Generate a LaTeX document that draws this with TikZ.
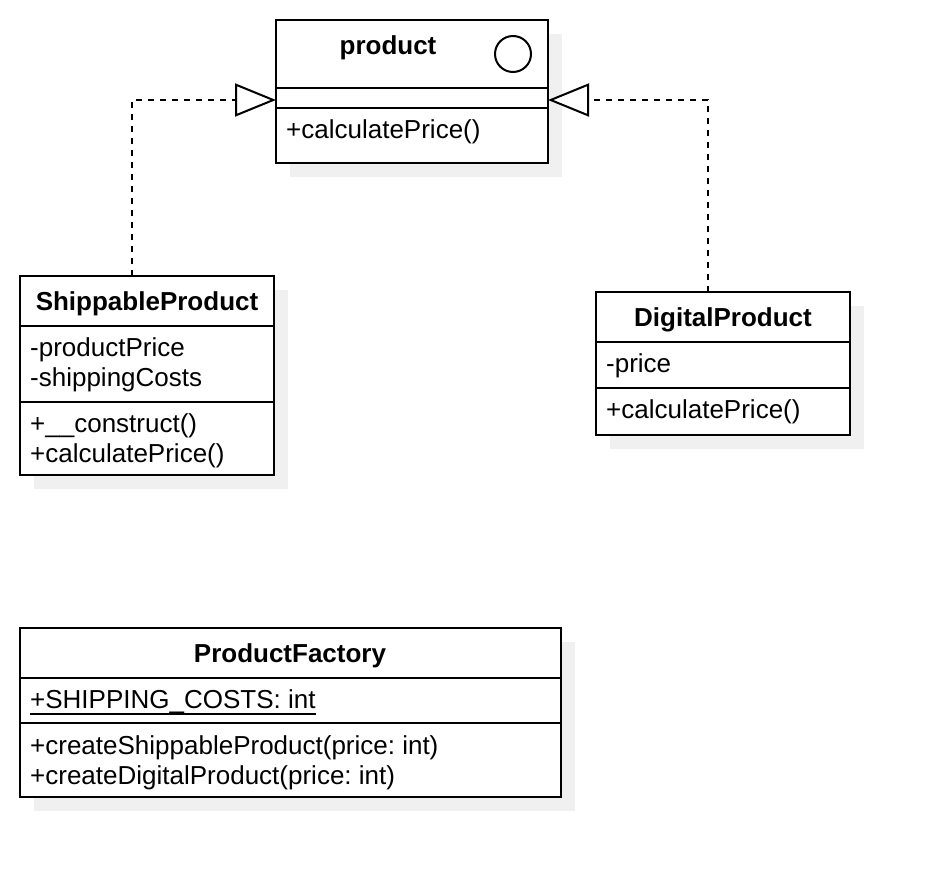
\documentclass[tikz,border=0pt]{standalone}
\usepackage{fontspec}
\setmainfont{Liberation Sans}
\usetikzlibrary{shadows,arrows.meta,calc}
\frenchspacing
\begin{document}
\begin{tikzpicture}[x=1pt,y=-1pt,
  classbox/.style={draw=black, line width=2pt, fill=white, anchor=north west, inner sep=0pt, outer sep=0pt,
    drop shadow={shadow xshift=14pt, shadow yshift=-14pt, fill=black!6, opacity=1}},
  divider/.style={draw=black, line width=2pt},
  txt/.style={anchor=base west, inner sep=0pt, font=\fontsize{26}{30}\selectfont},
  ttl/.style={anchor=base, inner sep=0pt, font=\fontsize{26}{30}\selectfont\bfseries},
  realize/.style={draw=black, line width=2pt, dash pattern=on 6pt off 6pt,
    -{Triangle[open, length=41pt, width=33pt, line width=2pt, fill=white]}}
]
\useasboundingbox[fill=white] (0,0) rectangle (930,878);

% product
\node[classbox, minimum width=272pt, minimum height=143pt] (prod) at (276,20) {};
\draw[divider] (276,88) -- (548,88);
\draw[divider] (276,108) -- (548,108);
\node[ttl] (prodtitle) at (388,54) {product};
\draw[line width=2pt] (513,54) circle[radius=18];
\node[txt] (prodm1) at (286,138) {+calculatePrice()};

% ShippableProduct
\node[classbox, minimum width=254pt, minimum height=199pt] (ship) at (20,276) {};
\draw[divider] (20,326) -- (274,326);
\draw[divider] (20,402) -- (274,402);
\node[ttl] (shiptitle) at (147,310) {ShippableProduct};
\node[txt] (shipa1) at (30,356) {-productPrice};
\node[txt] (shipa2) at (30,386) {-shippingCosts};
\node[txt] (shipm1) at (30,432) {+\_\_construct()};
\node[txt] (shipm2) at (30,462) {+calculatePrice()};

% DigitalProduct
\node[classbox, minimum width=254pt, minimum height=143pt] (dig) at (596,292) {};
\draw[divider] (596,342) -- (850,342);
\draw[divider] (596,388) -- (850,388);
\node[ttl] (digtitle) at (723,326) {DigitalProduct};
\node[txt] (diga1) at (606,372) {-price};
\node[txt] (digm1) at (606,418) {+calculatePrice()};

% ProductFactory
\node[classbox, minimum width=541pt, minimum height=169pt] (fac) at (20,628) {};
\draw[divider] (20,678) -- (561,678);
\draw[divider] (20,723) -- (561,723);
\node[ttl] (factitle) at (290,662) {ProductFactory};
\node[txt] (faca1) at (30,708) {+SHIPPING\_COSTS: int};
\draw[line width=2pt] ($(faca1.base west)+(0,6)$) -- ($(faca1.base east)+(0,6)$);
\node[txt] (facm1) at (30,754) {+createShippableProduct(price: int)};
\node[txt] (facm2) at (30,784) {+createDigitalProduct(price: int)};

% realizations
\coordinate (lt) at (276,100);
\coordinate (rt) at (548,100);
\draw[realize] (ship.north -| 132,0) -- (132,100) -- (lt);
\draw[realize] (dig.north -| 708,0) -- (708,100) -- (rt);
\end{tikzpicture}
\end{document}
